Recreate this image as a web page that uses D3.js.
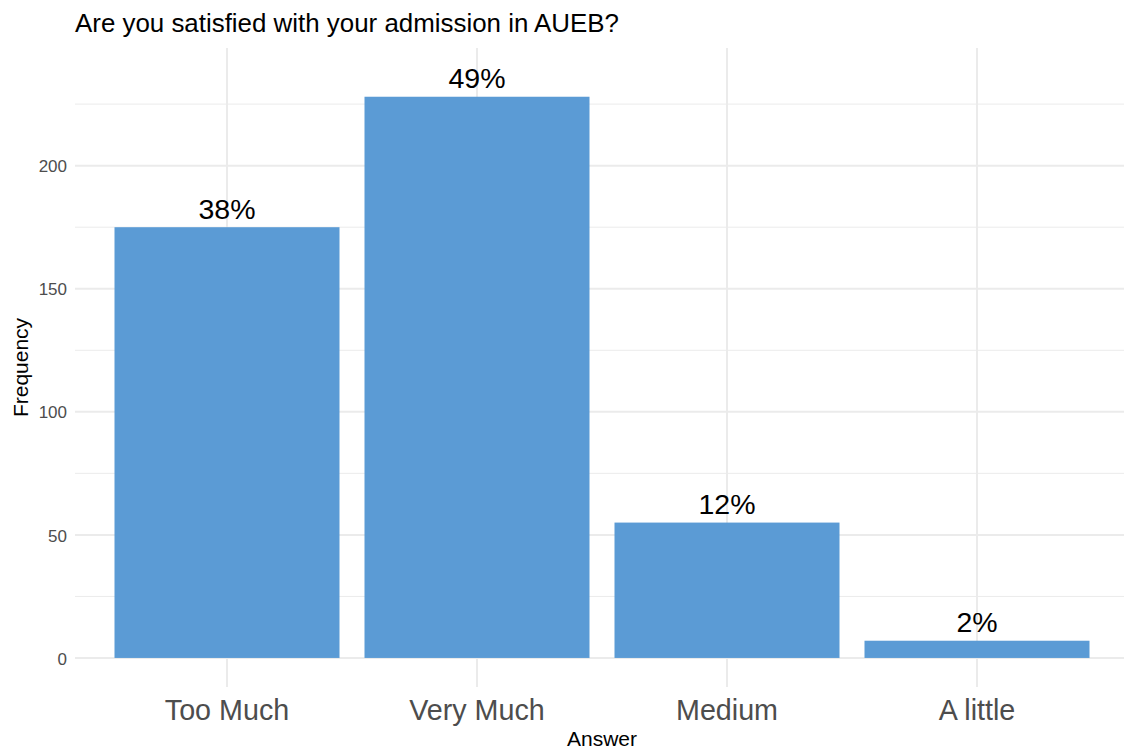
<!DOCTYPE html>
<html>
<head>
<meta charset="utf-8">
<script src="https://cdn.jsdelivr.net/npm/d3@7"></script>
<style>
  body { margin: 0; background: #fff; }
  svg text { font-family: "Liberation Sans", Arial, sans-serif; }
</style>
</head>
<body>
<div id="chart"></div>
<script>
// Globals
var answers = ["Too Much", "Very Much", "Medium", "A little"];
var counts = [175, 228, 55, 7];
var pctLabels = ["38%", "49%", "12%", "2%"];
var yTicks = [0, 50, 100, 150, 200];
var yMinor = [25, 75, 125, 175, 225];

var W = 1124, H = 754;
var panel = {left: 77, right: 1127, top: 48, bottom: 687};

var svg = d3.select("#chart")
  .append("svg")
    .attr("width", W)
    .attr("height", H);

var x = d3.scaleBand()
  .domain(answers)
  .range([panel.left, panel.right])
  .paddingInner(0.1)
  .paddingOuter(0.15);

// y range expanded like ggplot (labels push the top up a bit)
var y = d3.scaleLinear()
  .domain([-11.8, 247.8])
  .range([panel.bottom, panel.top]);

var grid = svg.append("g");

// minor gridlines
grid.selectAll("line.minor")
  .data(yMinor)
  .enter()
  .append("line")
    .attr("x1", panel.left - 2)
    .attr("x2", W)
    .attr("y1", function(d){ return y(d); })
    .attr("y2", function(d){ return y(d); })
    .attr("stroke", "#ebebeb")
    .attr("stroke-width", 1);

// major gridlines
grid.selectAll("line.major")
  .data(yTicks)
  .enter()
  .append("line")
    .attr("x1", panel.left - 2)
    .attr("x2", W)
    .attr("y1", function(d){ return y(d); })
    .attr("y2", function(d){ return y(d); })
    .attr("stroke", "#ebebeb")
    .attr("stroke-width", 2);

grid.selectAll("line.vert")
  .data(answers)
  .enter()
  .append("line")
    .attr("x1", function(d){ return x(d) + x.bandwidth() / 2; })
    .attr("x2", function(d){ return x(d) + x.bandwidth() / 2; })
    .attr("y1", panel.top)
    .attr("y2", panel.bottom)
    .attr("stroke", "#ebebeb")
    .attr("stroke-width", 2);

// bars
svg.selectAll("rect.bar")
  .data(answers)
  .enter()
  .append("rect")
    .attr("x", function(d){ return x(d); })
    .attr("width", x.bandwidth())
    .attr("y", function(d, i){ return y(counts[i]); })
    .attr("height", function(d, i){ return y(0) - y(counts[i]); })
    .attr("fill", "#5b9bd5");

// percent labels
svg.selectAll("text.pct")
  .data(answers)
  .enter()
  .append("text")
    .attr("x", function(d){ return x(d) + x.bandwidth() / 2; })
    .attr("y", function(d, i){ return y(counts[i]) - 8.5; })
    .attr("text-anchor", "middle")
    .attr("font-size", 28.5)
    .attr("fill", "#000")
    .text(function(d, i){ return pctLabels[i]; });

// y axis labels
var yAxis = svg.append("g")
  .attr("transform", "translate(" + (panel.left - 10) + ",0)")
  .call(d3.axisLeft(y).tickValues(yTicks).tickSize(0).tickPadding(0));
yAxis.select(".domain").remove();
yAxis.selectAll("text")
  .attr("font-size", 17)
  .attr("fill", "#4d4d4d")
  .attr("dy", "0.36em");

// x axis labels
var xAxis = svg.append("g")
  .attr("transform", "translate(0," + panel.bottom + ")")
  .call(d3.axisBottom(x).tickSize(0).tickPadding(0));
xAxis.select(".domain").remove();
xAxis.selectAll("text")
  .attr("font-size", 28.7)
  .attr("fill", "#4d4d4d")
  .attr("y", 33)
  .attr("dy", 0);

// axis titles
svg.append("text")
  .attr("x", (panel.left + panel.right) / 2)
  .attr("y", 746)
  .attr("text-anchor", "middle")
  .attr("font-size", 21)
  .attr("fill", "#000")
  .text("Answer");

svg.append("text")
  .attr("transform", "translate(28," + ((panel.top + panel.bottom) / 2) + ") rotate(-90)")
  .attr("text-anchor", "middle")
  .attr("font-size", 21)
  .attr("fill", "#000")
  .text("Frequency");

// title
svg.append("text")
  .attr("x", 75)
  .attr("y", 32)
  .attr("font-size", 25.9)
  .attr("fill", "#000")
  .text("Are you satisfied with your admission in AUEB?");
</script>
</body>
</html>
